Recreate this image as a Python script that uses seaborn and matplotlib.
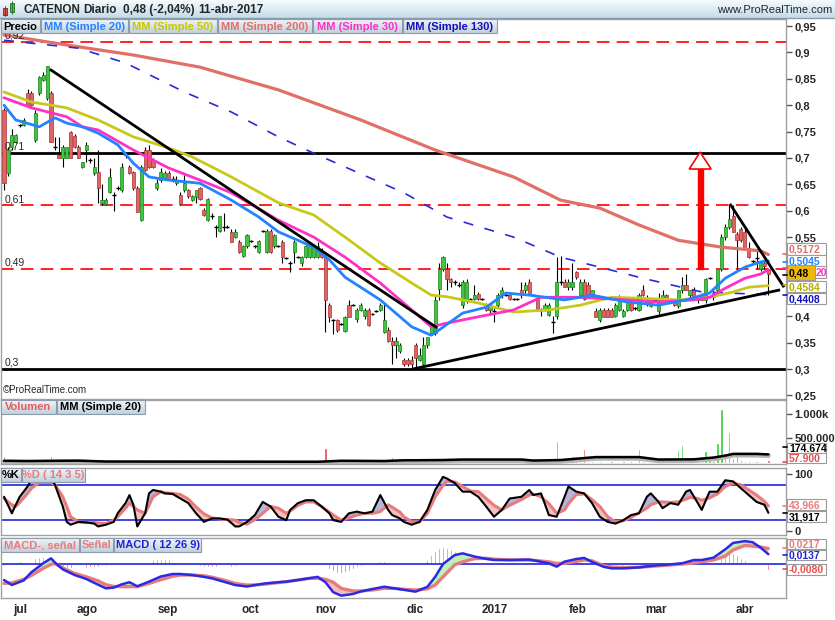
"""CATENON daily chart (ProRealTime style) redrawn with seaborn/matplotlib"""
import numpy as np
import matplotlib
matplotlib.use("Agg")
import matplotlib.pyplot as plt
from matplotlib.patches import Rectangle, Polygon
from matplotlib.colors import LinearSegmentedColormap
import seaborn as sns

# ---------------- data ----------------
open_ = [.79, .671, .721, .73, .762, .762, .823, .823, .734, .823,
         .848, .814, .823, .721, .706, .70, .70, .75, .741, .721,
         .683, .715, .696, .671, .673, .615, .613, .636, .63, .643,
         .639, .706, .683, .673, .643, .582, .715, .715, .696, .643,
         .658, .66, .671, .66, .652, .63, .639, .639, .62, .626,
         .643, .601, .582, .59, .572, .561, .57, .57, .56, .55,
         .541, .514, .533, .543, .533, .522, .561, .522, .561, .533,
         .533, .541, .51, .50, .522, .513, .50, .512, .512, .512,
         .512, .522, .512, .421, .393, .393, .386, .373, .421, .421,
         .395, .412, .40, .412, .405, .41, .412, .37, .374, .354,
         .345, .335, .318, .318, .318, .345, .318, .31, .345, .368,
         .368, .452, .489, .489, .47, .464, .46, .421, .43, .432,
         .432, .443, .432, .421, .412, .41, .421, .44, .44, .44,
         .432, .432, .45, .45, .464, .44, .432, .412, .412, .403,
         .39, .40, .464, .464, .455, .455, .483, .44, .464, .459,
         .438, .41, .393, .412, .412, .412, .40, .412, .40, .412,
         .425, .415, .412, .45, .425, .42, .43, .41, .43, .44,
         .43, .43, .42, .45, .46, .44, .45, .43, .44, .43,
         .472, .445, .45, .49, .55, .57, .59, .555, .565, .56,
         .53, .505, .51, .49, .50, .49]
high = [.795, .72, .755, .745, .765, .775, .83, .826, .79, .855,
        .862, .874, .826, .74, .74, .725, .72, .752, .745, .725,
        .692, .73, .70, .70, .715, .65, .625, .68, .635, .646,
        .69, .71, .686, .675, .646, .687, .72, .725, .70, .66,
        .68, .675, .675, .665, .665, .635, .668, .642, .63, .64,
        .645, .605, .625, .595, .573, .59, .595, .572, .565, .565,
        .545, .535, .556, .545, .535, .545, .563, .565, .565, .556,
        .535, .545, .512, .505, .545, .515, .515, .535, .535, .535,
        .54, .53, .515, .425, .395, .395, .388, .40, .43, .423,
        .415, .425, .415, .415, .407, .412, .425, .425, .38, .36,
        .36, .35, .32, .32, .325, .35, .34, .36, .36, .38,
        .44, .50, .515, .50, .473, .468, .464, .468, .47, .434,
        .46, .446, .434, .425, .425, .415, .445, .455, .442, .445,
        .434, .434, .465, .464, .47, .442, .435, .415, .425, .425,
        .40, .512, .515, .47, .47, .50, .485, .47, .47, .465,
        .45, .415, .415, .415, .415, .415, .425, .44, .413, .43,
        .43, .417, .445, .46, .44, .435, .432, .445, .45, .442,
        .432, .432, .45, .475, .48, .45, .455, .44, .445, .472,
        .474, .45, .49, .555, .575, .61, .61, .56, .57, .565,
        .54, .507, .525, .50, .505, .49]
low = [.64, .665, .715, .728, .758, .76, .80, .798, .73, .82,
       .845, .81, .73, .715, .70, .683, .70, .70, .718, .70,
       .68, .692, .69, .668, .615, .611, .611, .633, .60, .64,
       .635, .70, .67, .64, .598, .58, .675, .68, .68, .64,
       .655, .658, .66, .655, .648, .611, .635, .625, .618, .615,
       .62, .59, .58, .585, .55, .56, .562, .568, .54, .548,
       .52, .512, .53, .54, .53, .52, .559, .52, .52, .53,
       .531, .50, .508, .483, .50, .511, .495, .51, .51, .51,
       .51, .51, .37, .39, .366, .37, .384, .37, .398, .419,
       .39, .41, .395, .382, .403, .408, .41, .368, .352, .31,
       .32, .33, .305, .305, .30, .30, .315, .305, .34, .365,
       .365, .43, .485, .45, .455, .46, .455, .415, .425, .43,
       .43, .43, .43, .41, .405, .39, .418, .435, .438, .43,
       .43, .43, .435, .445, .44, .438, .41, .40, .41, .40,
       .368, .395, .46, .455, .45, .45, .47, .435, .43, .44,
       .435, .398, .39, .398, .398, .398, .398, .41, .398, .41,
       .41, .412, .41, .438, .42, .418, .428, .405, .428, .428,
       .428, .42, .415, .445, .45, .435, .43, .425, .43, .425,
       .47, .43, .445, .485, .545, .565, .56, .49, .54, .53,
       .51, .50, .49, .485, .49, .44]
close = [.652, .715, .743, .743, .762, .772, .80, .80, .785, .853,
         .858, .874, .731, .721, .70, .721, .721, .70, .72, .70,
         .692, .725, .696, .683, .643, .62, .62, .664, .63, .643,
         .683, .706, .671, .643, .598, .683, .677, .683, .683, .652,
         .673, .671, .66, .66, .658, .613, .652, .627, .627, .639,
         .622, .592, .622, .59, .57, .59, .57, .57, .541, .56,
         .521, .533, .554, .543, .533, .543, .561, .561, .522, .554,
         .533, .512, .51, .50, .541, .513, .512, .533, .533, .533,
         .533, .512, .431, .399, .393, .374, .386, .399, .399, .421,
         .412, .421, .412, .383, .405, .41, .421, .393, .354, .345,
         .354, .345, .31, .31, .31, .32, .327, .345, .36, .379,
         .431, .489, .512, .47, .464, .464, .46, .464, .464, .432,
         .44, .432, .432, .412, .421, .41, .44, .45, .44, .432,
         .432, .432, .44, .46, .44, .44, .412, .412, .421, .421,
         .39, .464, .464, .455, .464, .464, .474, .464, .432, .44,
         .45, .399, .412, .399, .399, .399, .421, .436, .41, .427,
         .412, .415, .44, .44, .43, .43, .43, .43, .44, .43,
         .43, .421, .45, .46, .45, .45, .435, .435, .43, .47,
         .472, .437, .49, .55, .57, .585, .56, .545, .545, .53,
         .512, .505, .51, .50, .495, .48]

# moving averages (day index, price)
ma200_x = [0, 16, 33, 50, 70, 91, 110, 130, 142, 152, 162, 172, 183, 193, 195]
ma200_y = [.933, .914, .895, .872, .829, .772, .715, .664, .620, .605, .573, .544, .531, .524, .517]
ma130_x = [0, 19, 31, 46, 58, 70, 79, 102, 113, 130, 142, 163, 178, 195]
ma130_y = [.923, .908, .88, .825, .787, .74, .709, .634, .588, .55, .512, .472, .446, .441]
ma50_x = [0, 7, 16, 24, 33, 42, 48, 58, 70, 79, 87, 96, 104, 109, 113, 121, 130,
          139, 147, 155, 163, 172, 180, 186, 190, 195]
ma50_y = [.825, .806, .795, .772, .74, .719, .702, .664, .615, .592, .55, .501, .463,
          .44, .437, .425, .408, .412, .421, .436, .434, .431, .436, .446, .455, .458]
ma30_x = [0, 7, 16, 20, 24, 33, 42, 50, 58, 70, 79, 87, 96, 104, 109, 113, 121, 130,
          137, 147, 159, 167, 176, 180, 184, 189, 193, 195]
ma30_y = [.814, .795, .778, .759, .753, .715, .681, .658, .634, .582, .55, .512, .463,
          .412, .38, .387, .399, .412, .436, .436, .431, .427, .431, .436, .453, .472, .48, .488]
ma20_x = [0, 3, 9, 13, 16, 20, 24, 29, 33, 37, 42, 50, 58, 65, 70, 79, 83, 87, 96, 104,
          109, 111, 117, 123, 128, 134, 143, 150, 159, 167, 174, 180, 184, 189, 193, 195]
ma20_y = [.80, .772, .759, .776, .766, .759, .747, .725, .69, .664, .658, .652, .62, .588,
          .56, .531, .507, .474, .431, .38, .364, .374, .406, .417, .444, .44, .431, .44,
          .427, .421, .431, .444, .472, .493, .503, .505]

# support / resistance levels and trend lines
dashed_levels = [0.92, 0.61, 0.49]
solid_levels = [0.71, 0.30]
level_labels = ["0,92", "0,71", "0,61", "0,49", "0,3"]
level_values = [0.92, 0.71, 0.61, 0.49, 0.30]
trend_down = ([11.7, 110.5], [0.868, 0.378])
trend_up = ([104.3, 198.0], [0.300, 0.450])
trend_short = ([185.2, 199.0], [0.613, 0.455])
arrow_day, arrow_base, arrow_neck, arrow_top = 177.6, 0.49, 0.679, 0.711

# 0,45 and 0,5 sit under the last-value tags, so they stay blank
price_ticks = [0.25, 0.3, 0.35, 0.4, 0.45, 0.5, 0.55, 0.6, 0.65, 0.7, 0.75, 0.8, 0.85, 0.9, 0.95]
price_tick_labels = ["0,25", "0,3", "0,35", "0,4", "", "", "0,55", "0,6", "0,65",
                     "0,7", "0,75", "0,8", "0,85", "0,9", "0,95"]

# volume (thousands of shares)
volume = [140, 20, 35, 25, 15, 10, 30, 25, 40, 30, 20, 25, 140,
          12, 8, 5, 10, 6, 4, 9, 7, 5, 8, 6, 10, 4, 7, 9, 5, 6, 8, 4, 10,
          7, 5, 9, 6, 8, 4, 7, 10, 5, 6, 8, 9, 4, 7, 6, 5, 10, 8, 4, 6,
          7, 9, 5, 8, 6, 4, 10, 7, 5, 9, 6, 8, 4, 7, 5, 10, 6, 9, 8, 4,
          7, 5, 6, 8, 10, 40, 15, 12,
          20, 300, 60, 40, 50, 20, 60, 25, 30, 35, 20, 30, 25, 40, 20, 30,
          50, 70, 120, 40, 30, 50, 30, 20, 40, 20, 30, 40, 60, 110, 100, 60,
          40, 30, 25, 20, 35, 15, 20, 25, 20, 80, 15, 20, 25, 20, 15, 30,
          20, 25, 40, 20, 15, 30, 25, 20, 15, 30, 25, 20,
          440, 60, 50, 100, 150, 60, 40, 280, 30, 40, 25, 35, 20, 30, 50, 25,
          30, 40, 20, 35, 25, 280, 40, 30, 25, 20, 35, 40, 25, 30, 20,
          260, 360, 40, 35, 30, 40, 45, 240, 60, 50, 400, 1100, 200, 640, 100, 140,
          60, 50, 40, 30, 40, 20, 30, 58]
vol_ma_x = [0, 6, 13, 19, 26, 80, 86, 97, 102, 112, 117, 132, 135, 142, 148, 151, 162,
            167, 176, 181, 184, 186, 192, 195]
vol_ma_y = [45, 40, 45, 48, 30, 25, 45, 40, 55, 60, 70, 70, 50, 60, 100, 120, 120,
            70, 75, 110, 150, 185, 185, 175]

# stochastic (14 3 5)
stoch_x = [0, 2, 3, 4, 6, 7, 9, 12, 13, 15, 16, 17, 19, 21, 23, 24, 26, 28, 29, 31,
           32, 33, 34, 36, 37, 38, 40, 41, 43, 45, 47, 48, 49, 51, 53, 55, 57, 59, 60, 62,
           64, 66, 68, 70, 72, 73, 75, 77, 79, 81, 83, 84, 86, 88, 90, 92, 94, 96, 98, 99,
           101, 102, 104, 106, 108, 110, 112, 113, 115, 117, 119, 121, 123, 125, 127, 129,
           132, 134, 135, 137, 139, 141, 143, 144, 146, 148, 150, 152, 154, 156, 158, 160,
           162, 164, 165, 167, 168, 170, 172, 174, 175, 177, 178, 180, 182, 184, 186, 188,
           190, 192, 194, 195]
stoch_k = [60, 31, 46, 60, 78, 90, 92, 92, 81, 43, 16, 11, 16, 15, 13, 8, 11, 16, 31, 49,
           63, 46, 8, 31, 66, 72, 69, 66, 65, 57, 49, 40, 31, 16, 22, 22, 20, 8, 8, 16,
           28, 51, 43, 25, 19, 37, 49, 54, 54, 43, 31, 19, 16, 31, 34, 31, 34, 63, 37, 28,
           22, 16, 11, 16, 37, 72, 95, 92, 84, 69, 69, 60, 43, 25, 37, 57, 60, 72, 63, 66,
           28, 25, 60, 78, 69, 66, 49, 25, 16, 13, 19, 28, 31, 60, 66, 51, 40, 49, 46, 69,
           72, 49, 37, 69, 69, 89, 87, 75, 63, 51, 46, 32]
stoch_d = [57, 46, 43, 50, 66, 75, 85, 85, 81, 60, 43, 25, 16, 15, 15, 14, 13, 19, 25, 40,
           49, 43, 37, 31, 45, 60, 69, 67, 66, 64, 56, 49, 42, 30, 23, 21, 20, 19, 15, 12,
           20, 31, 43, 40, 31, 35, 45, 51, 51, 43, 33, 28, 19, 23, 28, 31, 31, 34, 46, 42,
           33, 25, 16, 16, 31, 60, 80, 87, 86, 78, 70, 69, 57, 45, 37, 45, 55, 63, 65, 60,
           48, 31, 37, 48, 64, 65, 55, 43, 25, 16, 18, 24, 32, 40, 46, 51, 51, 50, 51, 56,
           59, 57, 54, 58, 65, 78, 84, 81, 72, 63, 52, 44]

# MACD (12 26 9), values in 1e-4
macd_x = [0, 2, 5, 7, 10, 12, 13, 15, 18, 21, 24, 26, 28, 30, 32, 34, 37, 40, 43, 45,
          48, 51, 53, 56, 59, 62, 64, 67, 70, 72, 75, 78, 80, 82, 84, 86, 89, 91, 94, 97,
          100, 102, 105, 108, 110, 112, 115, 117, 120, 123, 125, 129, 134, 136, 139, 141,
          143, 146, 148, 150, 153, 155, 158, 162, 165, 168, 170, 173, 176, 178, 181, 184,
          186, 189, 191, 193, 195]
macd_line = [-224, -294, -230, -115, 10, 79, 20, -75, -154, -210, -290, -341, -330, -285,
             -255, -312, -247, -175, -140, -140, -155, -180, -200, -247, -295, -315, -295,
             -270, -255, -247, -224, -198, -180, -255, -395, -443, -420, -385, -350, -318,
             -345, -362, -387, -320, -180, 0, 125, 149, 105, 72, 56, 56, 62, 42, 9, -37,
             33, 70, 85, 30, -40, -61, -61, -47, -27, -12, -5, 10, 56, 56, 89, 205, 295,
             320, 305, 230, 137]
macd_signal = [-271, -265, -215, -160, -60, -5, 5, -55, -131, -180, -235, -290, -315, -317,
               -317, -317, -271, -220, -172, -155, -154, -165, -185, -224, -272, -295, -294,
               -279, -260, -248, -224, -201, -201, -215, -255, -341, -378, -378, -364, -340,
               -342, -354, -364, -348, -294, -180, -10, 30, 75, 80, 68, 56, 55, 48, 30, 9,
               9, 38, 56, 45, -25, -42, -51, -47, -33, -22, -14, 0, 15, 33, 56, 110, 196,
               260, 250, 238, 217]
macd_hist = [-33, -20,
             15, 30, 45, 60, 70, 80, 90, 100, 105, 80, 30,
             -20, -35, -45, -50, -55, -55, -55, -50, -50, -45, -40, -35, -30, -25, -20, -15, -10,
             20, 35, 35, 20, -15, -10,
             10, 30, 50, 65, 70, 70, 65, 50, 40, 25, 15, 5, -5,
             -15, -25, -35, -40, -45, -45, -40, -40, -35, -35, -30, -20, -10,
             -5, -3, 2, 4, -2, -4, 3, 5, -3, 2, 4, 6,
             10, 15, 20, 25, 20, 10, 5, 5,
             -30, -70, -100, -120, -125, -115, -95, -70, -45, -25,
             -10, -8, -5,
             30, 45, 45, 30,
             -5, -10, -15, -15, -10, -5,
             5, 10, 20,
             60, 120, 180, 220, 235, 230, 210,
             180, 150, 120, 90, 60, 40, 20,
             -10, -15, -20, -20, -20, -15, -15, -15, -10, -10, -5, -5, -5, 0,
             5, -5, -10, -5, 5, 10,
             30, 55, 75, 75, 60, 40, 20, 10,
             -10, -25, -35, -45, -45, -45, -40, -35, -30, -20, -15, -10, -5,
             5, 15, 20, 25, 25, 30, 25, 20, 25, 30, 25, 20, 20, 25,
             30, 40, 50, 60, 80, 110, 140, 150, 155, 150, 120, 90, 60, 30, 10,
             -20, -45, -65, -80]

month_pos = [4.1, 21.2, 41.8, 62.8, 82.1, 104.8, 125.3, 146.4, 166.3, 189.0]
month_labels = ["jul", "ago", "sep", "oct", "nov", "dic", "2017", "feb", "mar", "abr"]

# ---------------- style ----------------
sns.set_style("white")
plt.rcParams["font.family"] = ["Liberation Sans", "DejaVu Sans"]

GREEN, GREEN_EDGE = "#3cc83c", "#1d7d1d"
RED, RED_EDGE = "#e06464", "#a83232"
C20, C50, C200, C30, C130 = "#2284ff", "#c8c81a", "#e07068", "#ff30c8", "#2a2ad8"
SALMON, BLUE, FRAME = "#e87c7c", "#2222dd", "#a0a0a0"

W, H = 835, 620
fig = plt.figure(figsize=(W / 100, H / 100), dpi=100)
XL = (-0.77, 199.5)


def panel(top, bottom):
    """Axes placed by pixel rows"""
    ax = fig.add_axes([1 / W, 1 - bottom / H, 785 / W, (bottom - top) / H])
    ax.set_xlim(*XL)
    for s in ax.spines.values():
        s.set_color(FRAME)
        s.set_linewidth(1)
    ax.set_xticks([])
    ax.yaxis.tick_right()
    ax.tick_params(axis="y", length=4, width=1, color="#555555", pad=2)
    return ax


ax_p = panel(19, 399)
ax_v = panel(400, 464)
ax_s = panel(468, 535)
ax_m = panel(538, 598)

# ---------------- price panel ----------------
ax_p.set_ylim(0.2432, 0.9633)
for lv in dashed_levels:
    ax_p.axhline(lv, color="#ff1010", lw=1.3, dashes=(7, 4), zorder=1)
for lv in solid_levels:
    ax_p.axhline(lv, color="black", lw=2, zorder=1)
for lab, lv in zip(level_labels, level_values):
    ax_p.text(0.004, lv + 0.002, lab, transform=ax_p.get_yaxis_transform(),
              fontsize=7.5, va="bottom", ha="left", zorder=6)

idx = np.arange(len(close))
o, h, lo, c = map(np.array, (open_, high, low, close))
ax_p.vlines(idx, lo, h, color="black", lw=0.8, zorder=2)
flat = np.abs(c - o) < 0.004
up = (c > o) & ~flat
dn = (c < o) & ~flat
ax_p.bar(idx[up], (c - o)[up], bottom=o[up], width=0.8, color=GREEN,
         edgecolor=GREEN_EDGE, linewidth=0.5, zorder=3)
ax_p.bar(idx[dn], (o - c)[dn], bottom=c[dn], width=0.8, color=RED,
         edgecolor=RED_EDGE, linewidth=0.5, zorder=3)
ax_p.hlines(c[flat], idx[flat] - 0.5, idx[flat] + 0.5, color="black", lw=1, zorder=3)

for xs, ys, col, lw in [(ma200_x, ma200_y, C200, 2.3), (ma130_x, ma130_y, C130, 1.2),
                        (ma50_x, ma50_y, C50, 2.0), (ma30_x, ma30_y, C30, 2.0),
                        (ma20_x, ma20_y, C20, 2.0)]:
    sns.lineplot(x=xs, y=ys, ax=ax_p, color=col, linewidth=lw, zorder=4)
    if col == C130:
        ax_p.lines[-1].set_dashes((6, 7))

for xs, ys in (trend_down, trend_up, trend_short):
    ax_p.plot(xs, ys, color="black", lw=2, zorder=5, solid_capstyle="butt")

# red target arrow
ax_p.add_patch(Rectangle((arrow_day - 0.65, arrow_base), 1.3, arrow_neck - arrow_base,
                         color="#ff0000", zorder=5))
ax_p.add_patch(Polygon([(arrow_day - 2.8, arrow_neck), (arrow_day + 2.8, arrow_neck),
                        (arrow_day, arrow_top)], closed=True, facecolor="white",
                       edgecolor="#ff0000", lw=1.2, zorder=5))

ax_p.set_yticks(price_ticks, price_tick_labels, fontsize=8, fontweight="bold")
ax_p.set_xlim(*XL)
ax_p.set_xlabel("")
ax_p.set_ylabel("")

# ---------------- volume panel ----------------
vol = np.array(volume) * 1000.0
vup = c >= o
ax_v.bar(idx[vup], vol[vup], width=0.6, color="#30cc30", zorder=2)
ax_v.bar(idx[~vup], vol[~vup], width=0.6, color="#e04848", zorder=2)
vmx = np.array(vol_ma_x)
vmy = np.array(vol_ma_y) * 1000.0
sns.lineplot(x=vmx, y=vmy - 25000, ax=ax_v, color="#b4b4b4", linewidth=3.5, zorder=3)
sns.lineplot(x=vmx, y=vmy, ax=ax_v, color="black", linewidth=1.8, zorder=4)
ax_v.set_ylim(-20000, 1280000)
ax_v.set_yticks([500000, 1000000], ["500.000", "1.000k"], fontsize=8, fontweight="bold")
ax_v.set_xlim(*XL)
ax_v.set_xlabel("")
ax_v.set_ylabel("")

# ---------------- stochastic panel ----------------
sx, sk, sd = np.array(stoch_x), np.array(stoch_k), np.array(stoch_d)
ax_s.fill_between(sx, sk, sd, where=sk >= sd, interpolate=True, color="#b6b6da", lw=0, zorder=1)
ax_s.fill_between(sx, sk, sd, where=sk < sd, interpolate=True, color="#f4c0c0", lw=0, zorder=1)
ax_s.axhline(80, color=BLUE, lw=1.2, zorder=2)
ax_s.axhline(20, color=BLUE, lw=1.2, zorder=2)
sns.lineplot(x=sx, y=sd, ax=ax_s, color=SALMON, linewidth=2.2, zorder=3)
sns.lineplot(x=sx, y=sk, ax=ax_s, color="black", linewidth=1.5, zorder=4)
ax_s.set_ylim(-7, 110.5)
ax_s.set_yticks([0, 100], ["0", "100"], fontsize=8, fontweight="bold")
ax_s.set_xlim(*XL)
ax_s.set_xlabel("")
ax_s.set_ylabel("")

# ---------------- MACD panel ----------------
hist = np.array(macd_hist)
ax_m.bar(idx[hist >= 0], hist[hist >= 0], width=0.45, color="#44cc44", zorder=1)
ax_m.bar(idx[hist < 0], hist[hist < 0], width=0.45, color="#e05050", zorder=1)
ax_m.axhline(0, color=BLUE, lw=1.2, zorder=2)
mx, ml, ms = np.array(macd_x), np.array(macd_line), np.array(macd_signal)
ax_m.fill_between(mx, ml, ms, where=ml >= ms, interpolate=True, color="#c0f0b4", lw=0, zorder=2)
ax_m.fill_between(mx, ml, ms, where=ml < ms, interpolate=True, color="#f5bcbc", lw=0, zorder=2)
sns.lineplot(x=mx, y=ms, ax=ax_m, color=SALMON, linewidth=2.4, zorder=3)
sns.lineplot(x=mx, y=ml, ax=ax_m, color="#2a2ae6", linewidth=1.8, zorder=4)
ax_m.set_ylim(-476, 364)
ax_m.set_yticks([])
ax_m.set_xlim(*XL)
ax_m.set_xticks(month_pos, month_labels, fontsize=8.5, fontweight="bold")
ax_m.tick_params(axis="x", length=0, pad=4)
ax_m.set_xlabel("")
ax_m.set_ylabel("")

# ---------------- overlay: title bar, legends, value boxes ----------------
ov = fig.add_axes([0, 0, 1, 1], zorder=10)
ov.patch.set_alpha(0)
ov.axis("off")
bar_cmap = LinearSegmentedColormap.from_list("bar", ["#f4fafd", "#c4dcea"])
box_cmap = LinearSegmentedColormap.from_list("box", ["#f0f4f8", "#c3d0dc"])
grad = np.linspace(0, 1, 32)[:, None]

ov.imshow(grad, extent=(0, W, 18, 0), cmap=bar_cmap, aspect="auto", zorder=0)
ov.plot([0, W], [18, 18], color="#8a9aa8", lw=1)
# little candlestick icon
ov.add_patch(Rectangle((3, 8), 4, 7, facecolor="#e05050", edgecolor="#802020", lw=0.6))
ov.plot([5, 5], [6, 16], color="#802020", lw=0.6)
ov.add_patch(Rectangle((10, 3), 4, 9, facecolor="#40c840", edgecolor="#1d6d1d", lw=0.6))
ov.plot([12, 12], [1, 14], color="#1d6d1d", lw=0.6)
for tx, txt in [(23, "CATENON"), (83, "Diario"), (123, "0,48 (-2,04%)"), (198, "11-abr-2017")]:
    ov.text(tx, 10, txt, fontsize=8.5, fontweight="bold", va="center", ha="left")
ov.text(832, 10, "www.ProRealTime.com", fontsize=8, va="center", ha="right")


def legend_row(y0, y1, items):
    """Row of gradient label boxes above a panel"""
    for x0, x1, txt, col in items:
        ov.imshow(grad, extent=(x0, x1, y1, y0), cmap=box_cmap, aspect="auto", zorder=1)
        ov.add_patch(Rectangle((x0, y0), x1 - x0, y1 - y0, fill=False,
                               edgecolor="#8c9cac", lw=0.8, zorder=2))
        ov.text((x0 + x1) / 2, (y0 + y1) / 2 + 0.5, txt, color=col, fontsize=8,
                fontweight="bold", ha="center", va="center", zorder=3)


legend_row(19, 33, [(1, 40, "Precio", "black"), (41, 128, "MM (Simple 20)", C20),
                    (129, 217, "MM (Simple 50)", "#c8c800"), (218, 312, "MM (Simple 200)", C200),
                    (313, 402, "MM (Simple 30)", C30), (403, 497, "MM (Simple 130)", "#1010c0")])
legend_row(400, 414, [(1, 56, "Volumen", "#e06060"), (57, 145, "MM (Simple 20)", "black")])
legend_row(468, 482, [(1, 21, "%K", "black"), (22, 85, "%D ( 14 3 5)", SALMON)])
legend_row(538, 552, [(1, 79, "MACD-, señal", SALMON), (80, 113, "Señal", SALMON),
                      (114, 201, "MACD ( 12 26 9)", "#2020e0")])

ov.text(3, 390, "©ProRealTime.com", fontsize=7, va="center", ha="left")


def value_box(y0, y1, txt, col, face="white", x1=826, tx=789, tick_y=None):
    """Last-value tag on the right scale"""
    ov.add_patch(Rectangle((787, y0), x1 - 787, y1 - y0, facecolor=face,
                           edgecolor="#9a9a9a", lw=0.8, zorder=4))
    ov.text(tx, (y0 + y1) / 2 + 0.5, txt, color=col, fontsize=7.5, fontweight="bold",
            ha="left", va="center", zorder=5)
    if tick_y is not None:
        ov.plot([783, 787], [tick_y, tick_y], color=col, lw=1.2, zorder=5)


value_box(243, 255, "0,5172", C200, tick_y=254)
value_box(255, 266, "0,5045", C20, tick_y=262)
value_box(266, 278, "20", C30, tx=816, tick_y=268)
value_box(265, 280, "0,48", "black", face="#f2b705", x1=815, tick_y=275)
value_box(281, 292, "0,4584", "#b0b000", tick_y=285)
value_box(293, 304, "0,4408", "#1010c0", tick_y=295)
value_box(443, 453, "174.674", "black", tick_y=447)
value_box(453, 463, "57.900", "#e05050", tick_y=462)
value_box(499, 510, "43,966", SALMON, tick_y=506)
value_box(511, 522, "31,917", "black", tick_y=513)
value_box(539, 549, "0,0217", SALMON, tick_y=548)
value_box(550, 560, "0,0137", "#2020e0", tick_y=555)
value_box(564, 575, "-0,0080", "#e05050", tick_y=569)

ov.set_xlim(0, W)
ov.set_ylim(H, 0)

fig.savefig("out.png", dpi=100)
